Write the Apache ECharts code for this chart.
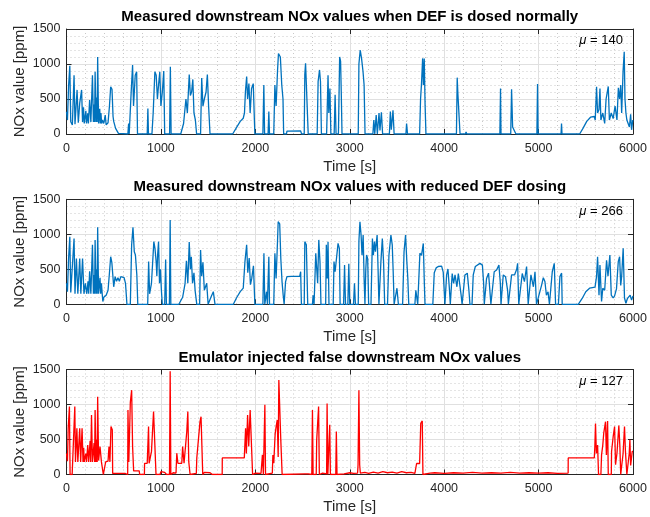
<!DOCTYPE html>
<html>
<head>
<meta charset="utf-8">
<script src="https://cdn.jsdelivr.net/npm/echarts@6.0.0/dist/echarts.min.js"></script>
<style>
  html, body { margin: 0; padding: 0; background: #fff; }
  #chart { width: 650px; height: 517px; }
</style>
</head>
<body>
<div id="chart"></div>
<script>
// panel titles and the mean value printed in each panel
const titles = [
  'Measured downstream NOx values when DEF is dosed normally',
  'Measured downstream NOx values with reduced DEF dosing',
  'Emulator injected false downstream NOx values'
];
const muValues = [140, 266, 127];

// [time s, NOx ppm]
const normalDosing = [
  [0,320],[10,200],[22,680],[35,975],[45,175],[62,130],[80,840],[90,140],[112,630],[125,160],
  [140,440],[160,630],[170,170],[180,380],[188,150],[195,140],[205,330],[212,150],[225,295],[232,150],
  [245,485],[258,170],[275,840],[285,170],[292,420],[298,170],[303,890],[313,170],[320,520],[325,170],
  [330,1100],[340,150],[352,360],[358,150],[365,300],[372,150],[380,200],[395,150],[410,270],[420,130],
  [440,160],[455,400],[468,675],[482,640],[493,250],[500,180],[520,80],[550,10],[570,0],[650,0],
  [658,150],[664,0],[685,600],[700,985],[710,400],[728,840],[743,890],[752,0],[855,0],[862,365],
  [868,0],[905,0],[918,300],[936,890],[950,840],[963,500],[975,700],[988,890],[1000,400],[1015,600],
  [1030,900],[1040,0],[1092,0],[1100,960],[1108,0],[1210,0],[1240,150],[1265,500],[1280,300],[1300,850],
  [1312,550],[1325,600],[1338,780],[1350,300],[1365,200],[1378,0],[1420,0],[1432,800],[1445,400],[1460,500],
  [1478,600],[1492,850],[1505,400],[1520,0],[1760,0],[1800,90],[1840,180],[1872,225],[1885,300],[1895,600],
  [1908,820],[1918,500],[1932,720],[1945,300],[1960,650],[1978,720],[1990,200],[1995,0],[2080,0],[2090,700],
  [2098,0],[2135,0],[2143,320],[2150,0],[2195,0],[2207,700],[2220,400],[2235,900],[2245,1150],[2265,1100],
  [2280,700],[2293,500],[2300,0],[2330,0],[2335,40],[2480,45],[2490,0],[2518,0],[2524,850],[2532,1010],
  [2550,1000],[2560,0],[2655,0],[2665,750],[2680,915],[2690,750],[2700,0],[2755,0],[2770,840],[2778,300],
  [2790,650],[2800,0],[2835,0],[2845,560],[2855,0],[2880,0],[2893,1100],[2903,1040],[2910,600],[2918,0],
  [3090,0],[3097,1000],[3111,1200],[3125,1080],[3140,900],[3152,700],[3162,0],[3245,0],[3255,200],[3265,0],
  [3280,270],[3292,0],[3310,300],[3320,50],[3335,310],[3348,0],[3420,0],[3430,320],[3440,60],[3458,340],
  [3470,0],[3595,0],[3602,150],[3612,0],[3740,0],[3750,500],[3760,720],[3772,1080],[3780,700],[3789,1080],
  [3798,415],[3807,0],[4130,0],[4138,805],[4145,580],[4160,560],[4168,0],[4225,0],[4232,30],[4240,0],
  [4590,0],[4597,650],[4602,0],[4705,0],[4714,640],[4725,100],[4760,0],[4982,0],[4989,715],[4995,0],
  [5160,0],[5168,20],[5175,0],[5238,0],[5243,150],[5248,0],[5435,0],[5470,80],[5510,180],[5550,240],
  [5590,250],[5600,200],[5614,675],[5625,300],[5640,350],[5650,650],[5660,200],[5680,300],[5700,150],[5715,500],
  [5738,680],[5750,200],[5770,300],[5790,220],[5810,400],[5830,200],[5845,660],[5858,500],[5870,700],[5880,300],
  [5895,900],[5907,1175],[5915,500],[5925,300],[5935,200],[5950,200],[5962,100],[5975,280],[5985,60],[5998,200]
];

const reducedDosing = [
  [0,300],[10,180],[22,655],[35,965],[45,170],[62,143],[80,940],[90,150],[105,655],[120,150],
  [140,655],[152,150],[170,655],[185,150],[200,300],[215,150],[228,330],[235,150],[245,470],[258,150],
  [275,850],[285,150],[292,420],[298,150],[303,920],[313,150],[320,500],[325,150],[330,1100],[340,150],
  [355,380],[362,150],[370,300],[378,150],[385,40],[395,100],[420,130],[440,200],[455,450],[468,680],
  [480,600],[500,250],[515,395],[530,330],[545,380],[560,330],[575,395],[590,380],[610,380],[625,300],
  [640,0],[676,0],[690,850],[704,1100],[718,750],[730,705],[745,420],[755,0],[860,0],[870,610],
  [880,150],[900,300],[925,895],[937,800],[950,600],[957,400],[965,700],[975,895],[985,300],[995,500],
  [1005,200],[1015,0],[1040,0],[1050,640],[1058,0],[1090,0],[1098,1205],[1105,0],[1190,0],[1230,100],
  [1256,300],[1270,620],[1285,300],[1300,890],[1312,500],[1322,680],[1335,300],[1350,450],[1362,200],[1380,0],
  [1410,0],[1420,775],[1432,400],[1445,600],[1460,200],[1485,300],[1500,0],[1520,0],[1535,120],[1555,180],
  [1573,0],[1767,0],[1800,90],[1840,180],[1872,230],[1890,610],[1908,850],[1920,450],[1935,660],[1948,280],
  [1962,370],[1980,550],[1995,0],[2080,0],[2091,730],[2100,0],[2112,0],[2119,180],[2128,0],[2135,0],
  [2143,680],[2150,0],[2195,0],[2207,730],[2220,370],[2235,900],[2242,1180],[2258,1150],[2270,650],[2283,320],
  [2295,130],[2305,0],[2315,0],[2320,320],[2335,395],[2383,400],[2470,400],[2480,465],[2488,0],[2518,0],
  [2524,895],[2540,850],[2555,0],[2605,0],[2612,130],[2622,0],[2640,730],[2660,300],[2672,920],[2685,600],
  [2695,0],[2745,0],[2752,850],[2762,370],[2770,895],[2780,0],[2825,0],[2833,610],[2845,465],[2876,870],
  [2890,800],[2898,0],[2935,0],[2945,560],[2955,0],[2980,0],[2990,580],[3000,0],[3040,0],[3050,300],
  [3060,0],[3090,0],[3097,900],[3108,1180],[3120,990],[3130,700],[3142,990],[3152,370],[3161,0],[3170,500],
  [3178,705],[3190,650],[3200,0],[3225,0],[3240,940],[3250,700],[3262,895],[3272,750],[3290,990],[3300,500],
  [3309,0],[3322,0],[3330,610],[3345,940],[3358,610],[3370,0],[3400,0],[3415,700],[3436,990],[3450,850],
  [3460,470],[3470,0],[3490,0],[3500,230],[3515,0],[3560,0],[3575,750],[3591,990],[3605,600],[3615,370],
  [3625,0],[3690,0],[3700,200],[3720,0],[3735,0],[3743,730],[3760,700],[3779,870],[3790,300],[3797,0],
  [3880,0],[3895,450],[3915,520],[3937,540],[3973,545],[3990,460],[4008,0],[4015,0],[4026,420],[4040,505],
  [4055,230],[4065,0],[4075,0],[4085,440],[4100,300],[4115,420],[4135,250],[4150,440],[4167,445],[4178,150],
  [4190,0],[4205,0],[4220,420],[4245,445],[4262,200],[4273,0],[4295,0],[4308,420],[4330,540],[4350,560],
  [4379,585],[4405,560],[4418,300],[4425,0],[4440,0],[4449,370],[4470,445],[4485,430],[4495,0],[4515,0],
  [4530,465],[4555,490],[4580,560],[4595,300],[4602,0],[4612,0],[4626,420],[4650,395],[4672,200],[4680,0],
  [4700,0],[4714,420],[4745,420],[4768,500],[4778,585],[4790,0],[4810,0],[4827,440],[4850,325],[4873,540],
  [4890,0],[4905,0],[4919,420],[4945,250],[4962,465],[4978,0],[4990,0],[5032,275],[5050,380],[5067,325],
  [5083,130],[5100,180],[5115,0],[5128,0],[5145,465],[5166,585],[5180,0],[5210,0],[5226,395],[5244,445],
  [5250,0],[5420,0],[5460,80],[5500,180],[5540,230],[5561,240],[5598,245],[5603,270],[5614,400],[5625,680],
  [5640,130],[5650,560],[5667,40],[5680,230],[5700,200],[5720,630],[5735,400],[5755,705],[5770,130],[5790,90],
  [5805,120],[5825,220],[5844,610],[5858,680],[5870,270],[5880,400],[5896,800],[5910,90],[5925,15],[5940,80],
  [5957,90],[5970,130],[5985,60],[6000,120]
];

const emulated = [
  [0,300],[10,190],[18,660],[31,970],[38,0],[60,0],[65,180],[88,970],[95,180],[110,660],
  [120,180],[140,660],[150,180],[165,660],[175,180],[182,380],[188,180],[190,180],[205,300],[212,180],
  [225,420],[235,180],[250,480],[256,180],[265,850],[275,180],[292,450],[298,180],[303,920],[312,180],
  [320,500],[325,180],[330,1110],[340,200],[355,400],[370,180],[385,180],[390,0],[410,0],[415,180],
  [440,190],[450,400],[460,180],[471,685],[485,640],[489,15],[620,15],[640,0],[648,0],[651,920],
  [660,180],[676,1030],[690,1205],[700,400],[711,52],[770,52],[775,0],[825,0],[827,160],[855,160],
  [869,685],[875,160],[900,330],[922,900],[940,920],[948,0],[990,0],[1000,40],[1040,30],[1060,0],
  [1091,0],[1098,1475],[1105,0],[1130,25],[1160,20],[1168,305],[1180,160],[1221,160],[1230,400],[1245,160],
  [1260,180],[1274,615],[1285,900],[1295,180],[1309,0],[1330,20],[1375,15],[1380,235],[1395,240],[1414,755],
  [1425,825],[1443,0],[1460,30],[1520,25],[1545,0],[1649,0],[1650,237],[1883,237],[1897,660],[1905,300],
  [1918,850],[1930,400],[1945,920],[1960,900],[1971,0],[2000,20],[2060,15],[2075,280],[2085,0],[2096,0],
  [2101,995],[2108,0],[2180,20],[2186,280],[2195,160],[2210,580],[2220,680],[2232,780],[2242,250],[2249,1350],
  [2262,1375],[2270,480],[2284,0],[2295,10],[2523,10],[2540,25],[2560,10],[2598,0],[2605,920],[2612,0],
  [2645,0],[2650,495],[2670,970],[2678,0],[2712,20],[2755,10],[2760,1015],[2768,0],[2782,0],[2788,710],
  [2795,0],[2852,0],[2858,615],[2865,0],[2875,20],[2940,10],[3000,25],[3040,15],[3083,20],[3088,140],
  [3097,1205],[3105,140],[3112,20],[3160,30],[3200,15],[3250,35],[3300,20],[3350,40],[3400,25],[3450,35],
  [3500,20],[3550,40],[3600,25],[3650,30],[3690,15],[3707,15],[3708,157],[3740,157],[3752,730],[3768,765],
  [3775,0],[3789,25],[3850,20],[3900,25],[4000,15],[4100,25],[4200,20],[4300,30],[4400,20],[4500,25],
  [4600,20],[4700,30],[4800,20],[4900,25],[5000,20],[5100,25],[5200,15],[5313,20],[5314,237],[5590,237],
  [5596,400],[5603,730],[5612,300],[5625,420],[5635,0],[5660,0],[5667,280],[5680,420],[5690,590],[5709,755],
  [5718,280],[5731,765],[5738,0],[5770,0],[5773,330],[5790,540],[5805,685],[5815,140],[5830,300],[5850,700],
  [5861,400],[5870,0],[5890,0],[5895,300],[5910,685],[5920,330],[5935,0],[5950,0],[5960,300],[5967,495],
  [5975,130],[5992,330],[6000,330]
];

const seriesData = [normalDosing, reducedDosing, emulated];
const lineColors = ['#0072BD', '#0072BD', '#FF0000'];

const chart = echarts.init(document.getElementById('chart'));

const plotLeft = 66.5;
const plotWidth = 566.5;
const plotHeight = 105;
const plotTops = [29, 199.3, 369.5];
const textColor = '#262626';
const font = '"Liberation Sans", Arial, Helvetica, sans-serif';
const plain = (v) => String(v);

const grids = [];
const xAxes = [];
const yAxes = [];
const series = [];
const graphics = [];

plotTops.forEach((top, i) => {
  grids.push({
    left: plotLeft, top: top, width: plotWidth, height: plotHeight,
    containLabel: false, outerBoundsMode: 'none'
  });

  // bottom axis (with labels) and a bare top axis to close the box
  xAxes.push({
    gridIndex: i,
    type: 'value',
    min: 0,
    max: 6000,
    interval: 1000,
    name: 'Time [s]',
    nameLocation: 'middle',
    nameGap: 25,
    nameMoveOverlap: false,
    nameTextStyle: { color: textColor, fontSize: 15, fontFamily: font },
    axisLine: { show: true, onZero: false, lineStyle: { color: textColor, width: 1 } },
    axisTick: { show: true, inside: true, length: 5, lineStyle: { color: textColor } },
    axisLabel: { color: textColor, fontSize: 12.5, fontFamily: font, margin: 8, formatter: plain },
    splitLine: { show: true, lineStyle: { color: '#E0E0E0', width: 1 } },
    minorTick: { show: false, splitNumber: 5 },
    minorSplitLine: { show: true, lineStyle: { color: '#C8C8C8', width: 1, type: [1, 3] } }
  });
  xAxes.push({
    gridIndex: i,
    type: 'value',
    position: 'top',
    min: 0,
    max: 6000,
    interval: 1000,
    axisLine: { show: true, onZero: false, lineStyle: { color: textColor, width: 1 } },
    axisTick: { show: true, inside: true, length: 5, lineStyle: { color: textColor } },
    axisLabel: { show: false },
    splitLine: { show: false }
  });

  yAxes.push({
    gridIndex: i,
    type: 'value',
    min: 0,
    max: 1500,
    interval: 500,
    name: 'NOx value [ppm]',
    nameLocation: 'middle',
    nameGap: 39,
    nameRotate: 90,
    nameMoveOverlap: false,
    nameTextStyle: { color: textColor, fontSize: 15, fontFamily: font },
    axisLine: { show: true, onZero: false, lineStyle: { color: textColor, width: 1 } },
    axisTick: { show: true, inside: true, length: 5, lineStyle: { color: textColor } },
    axisLabel: { color: textColor, fontSize: 12.5, fontFamily: font, margin: 6, formatter: plain },
    splitLine: { show: true, lineStyle: { color: '#E0E0E0', width: 1 } },
    minorTick: { show: false, splitNumber: 5 },
    minorSplitLine: { show: true, lineStyle: { color: '#C8C8C8', width: 1, type: [1, 3] } }
  });
  yAxes.push({
    gridIndex: i,
    type: 'value',
    position: 'right',
    min: 0,
    max: 1500,
    interval: 500,
    axisLine: { show: true, onZero: false, lineStyle: { color: textColor, width: 1 } },
    axisTick: { show: true, inside: true, length: 5, lineStyle: { color: textColor } },
    axisLabel: { show: false },
    splitLine: { show: false }
  });

  series.push({
    type: 'line',
    xAxisIndex: i * 2,
    yAxisIndex: i * 2,
    data: seriesData[i],
    showSymbol: false,
    symbol: 'none',
    lineStyle: { color: lineColors[i], width: 1.3 },
    z: 3
  });

  graphics.push({
    type: 'text',
    x: plotLeft + plotWidth / 2,
    y: top - 12,
    style: {
      text: titles[i],
      fill: '#000',
      font: 'bold 15px ' + font,
      align: 'center',
      verticalAlign: 'middle'
    }
  });
  graphics.push({
    type: 'text',
    x: 623,
    y: top + 11.7,
    style: {
      text: '{i|μ} = ' + muValues[i],
      fill: '#000',
      align: 'right',
      verticalAlign: 'middle',
      font: '13px ' + font,
      rich: { i: { fontStyle: 'italic', fontSize: 13, fontFamily: font, fill: '#000' } }
    },
    z: 10
  });
});

chart.setOption({
  backgroundColor: '#fff',
  animation: false,
  grid: grids,
  xAxis: xAxes,
  yAxis: yAxes,
  series: series,
  graphic: graphics
});
</script>
</body>
</html>
